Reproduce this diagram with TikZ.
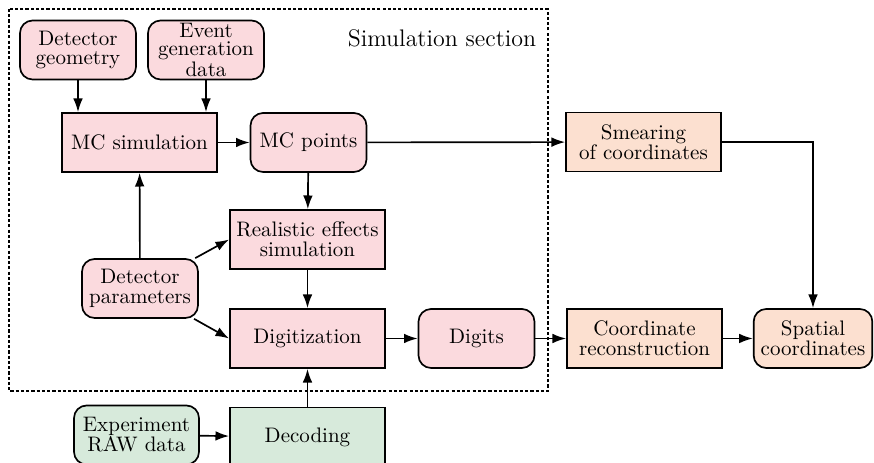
\documentclass[tikz,border=0pt]{standalone}
\usepackage{amsmath,amsfonts,amssymb}
\usetikzlibrary{arrows.meta,shapes}
\definecolor{simpink}{RGB}{251,218,222}
\definecolor{recpeach}{RGB}{252,224,208}
\definecolor{rawgreen}{RGB}{215,234,219}

\begin{document}
\begin{tikzpicture}[x=0.476pt, y=-0.476pt, line width=0.8pt,
      every node/.style={align=center, font=\fontsize{10pt}{9.5pt}\selectfont},
      block/.style={draw, rectangle, minimum width=73.8pt, minimum height=28.1pt, inner sep=2pt},
      roundblock/.style={draw, rectangle, rounded corners=6pt, minimum width=55.2pt, minimum height=28.1pt},
      sim/.style={fill=simpink}, rec/.style={fill=recpeach}, raw/.style={fill=rawgreen},
      flow/.style={-{Latex[length=6.5pt, width=4.6pt]}}]

   \useasboundingbox (0,0) rectangle (874,463);

   % simulation section
   \draw[line width=0.6pt, dash pattern=on 1.5pt off 1pt] (9,9) rectangle (548,391);
   \node[anchor=east, inner sep=0pt, font=\fontsize{11.4pt}{13pt}\selectfont] (simlabel) at (537,38) {Simulation section};

   \node[roundblock, sim] (geom) at (78,50) {Detector\\geometry};
   \node[roundblock, sim, inner ysep=1pt, font=\fontsize{10pt}{8.5pt}\selectfont] (event) at (206,50) {Event\\generation\\data};
   \node[block, sim] (mcsim) at (139.5,142.5) {MC simulation};
   \node[roundblock, sim] (mcpts) at (308.5,142.5) {MC points};
   \node[block, sim] (real) at (307.5,239.5) {Realistic effects\\simulation};
   \node[roundblock, sim] (params) at (140,288.5) {Detector\\parameters};
   \node[block, sim] (digit) at (307.5,338.5) {Digitization};
   \node[roundblock, sim] (digits) at (476.5,338.5) {Digits};

   % reconstruction
   \node[block, rec] (smear) at (643.5,142) {Smearing\\of coordinates};
   \node[block, rec] (coordrec) at (644.5,338.5) {Coordinate\\reconstruction};
   \node[roundblock, rec] (spatial) at (813,338.5) {Spatial\\coordinates};

   % experiment
   \node[roundblock, raw, minimum width=59.5pt] (exper) at (136.5,435) {Experiment\\RAW data};
   \node[block, raw] (decod) at (307.5,437) {Decoding};

   \draw[flow] (geom) -- (geom |- mcsim.north);
   \draw[flow] (event) -- (event |- mcsim.north);
   \draw[flow] (mcsim) -- (mcpts);
   \draw[flow] (mcpts) -- (smear);
   \draw[flow] (mcpts) -- (real);
   \draw[flow] (params) -- (mcsim);
   \draw[flow] (params) -- (real.west);
   \draw[flow] (params) -- (digit.west);
   \draw[flow] (real) -- (digit);
   \draw[flow] (digit) -- (digits);
   \draw[flow] (digits) -- (coordrec);
   \draw[flow] (coordrec) -- (spatial);
   \draw[flow] (smear.east) -| (spatial.north);
   \draw[flow] (decod) -- (digit);
   \draw[flow] (exper) -- (decod);
\end{tikzpicture}
\end{document}
